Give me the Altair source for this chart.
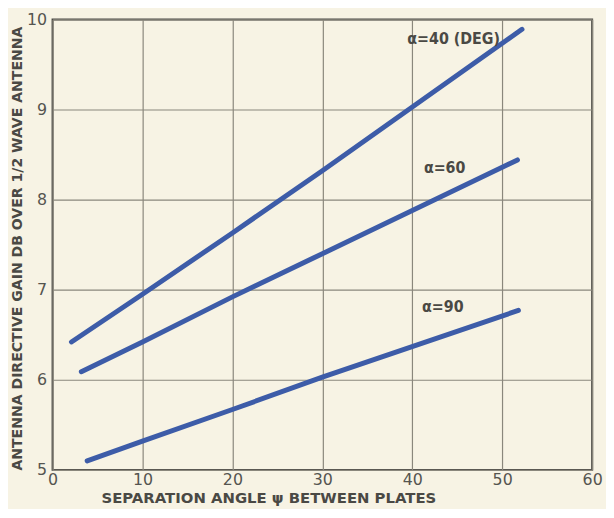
import altair as alt
import pandas as pd

# --- data ---
series = ["a40", "a60", "a90"]
psi_40 = [2.1, 10, 20, 30, 52.2]
gain_40 = [6.42, 6.95, 7.63, 8.32, 9.89]
psi_60 = [3.2, 10, 20, 30, 51.7]
gain_60 = [6.09, 6.42, 6.92, 7.40, 8.44]
psi_90 = [3.85, 10, 20, 30, 51.8]
gain_90 = [5.10, 5.32, 5.67, 6.03, 6.77]

label_text = ["α=40 (DEG)", "α=60", "α=90"]
label_x = [44.6, 43.6, 43.4]
label_y = [9.78, 8.35, 6.81]

x_ticks = [0, 10, 20, 30, 40, 50, 60]
y_ticks = [5, 6, 7, 8, 9, 10]

rows = []
for name, xs, ys in zip(series, [psi_40, psi_60, psi_90], [gain_40, gain_60, gain_90]):
    for xv, yv in zip(xs, ys):
        rows.append({"series": name, "psi": xv, "gain": yv})
lines_df = pd.DataFrame(rows)
labels_df = pd.DataFrame({"text": label_text, "psi": label_x, "gain": label_y})

BG = "#f7f3e4"
INK = "#4a4944"
BLUE = "#3d5ca8"

x_enc = alt.X(
    "psi:Q",
    scale=alt.Scale(domain=[0, 60], nice=False, zero=False),
    axis=alt.Axis(
        values=x_ticks,
        format="d",
        title="SEPARATION ANGLE  ψ  BETWEEN PLATES",
        titleX=218,
        titleY=28,
        titleBaseline="middle",
        titleAnchor="middle",
        titleAlign="center",
    ),
)
y_enc = alt.Y(
    "gain:Q",
    scale=alt.Scale(domain=[5, 10], nice=False, zero=False),
    axis=alt.Axis(
        values=y_ticks,
        format="d",
        title="ANTENNA DIRECTIVE GAIN DB OVER 1/2 WAVE ANTENNA",
        titleX=-35,
        titleY=231,
        titleBaseline="middle",
        titleAlign="center",
    ),
)

lines = alt.Chart(lines_df).mark_line(
    color=BLUE, strokeWidth=5, strokeCap="round", strokeJoin="round"
).encode(x=x_enc, y=y_enc, detail="series:N")

labels = alt.Chart(labels_df).mark_text(
    font="DejaVu Sans Condensed", fontSize=16, fontWeight="bold", color=INK, align="center", baseline="middle"
).encode(x="psi:Q", y="gain:Q", text="text:N")

chart = (
    alt.layer(lines, labels)
    .properties(
        width=545,
        height=455,
        autosize=alt.AutoSizeParams(type="none"),
        padding={"left": 45, "top": 9, "right": 14, "bottom": 37},
        background=BG,
    )
    .configure_view(stroke=INK, strokeWidth=2, fill=BG)
    .configure_axis(
        grid=True,
        gridColor="#8a877c",
        gridWidth=1.2,
        domain=False,
        ticks=False,
        labelFont="DejaVu Sans",
        labelFontSize=16,
        labelColor="#555550",
        titleFont="DejaVu Sans",
        titleFontWeight="bold",
        titleColor=INK,
    )
    .configure_axisY(labelPadding=6, titleFontSize=14.2)
    .configure_axisX(labelPadding=2, titleFontSize=15, labelFlush=False)
)

chart.save("out.html", embed_options={"renderer": "svg", "actions": False})
